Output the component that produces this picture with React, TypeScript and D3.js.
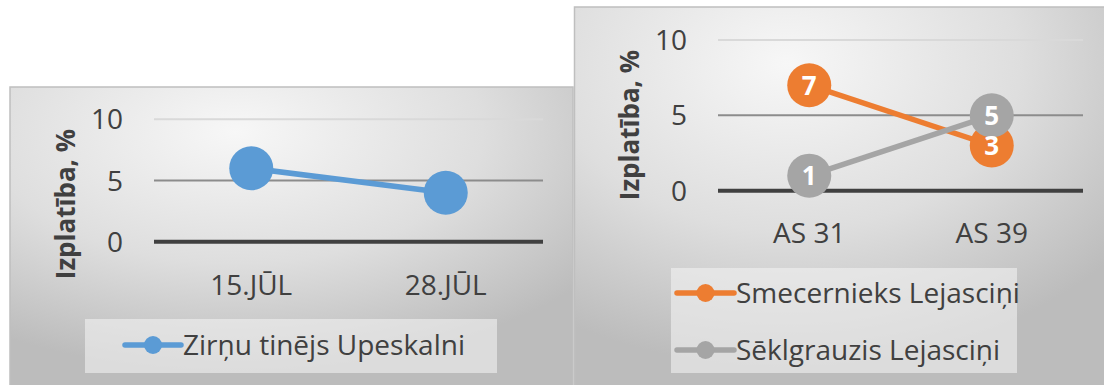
import React from "react";
import * as d3 from "d3";

const leftCategories = ["15.JŪL", "28.JŪL"];
const leftSeriesName = "Zirņu tinējs Upeskalni";
const leftValues = [6, 4];

const rightCategories = ["AS 31", "AS 39"];
const smecName = "Smecernieks Lejasciņi";
const smecValues = [7, 3];
const seklName = "Sēklgrauzis Lejasciņi";
const seklValues = [1, 5];

const yTicks = [0, 5, 10];
const yTitle = "Izplatība, %";

const BLUE = "#5b9bd5";
const ORANGE = "#ed7d31";
const GREY = "#a5a5a5";
const TEXT = "#404040";
const FONT = "'Open Sans', sans-serif";

const gridColor = (v: number) => (v === 0 ? "#404040" : v === 5 ? "#8c8c8c" : "#d9d9d9");
const gridWidth = (v: number) => (v === 0 ? 4 : 2);

type Series = { name: string; values: number[]; color: string; labels: boolean };

function Panel(props: {
  id: string;
  x0: number; y0: number; x1: number; y1: number;
  plotX0: number; plotX1: number; yZero: number; yTen: number;
  tickRight: number; titleX: number; titleY: number; catLabelY: number;
  categories: string[]; series: Series[];
  legend: { x0: number; x1: number; y0: number; y1: number; rows: number[]; lineX0: number; lineX1: number };
}) {
  const p = props;
  const x = d3.scaleBand<string>().domain(p.categories).range([p.plotX0, p.plotX1]);
  const y = d3.scaleLinear().domain([0, 10]).range([p.yZero, p.yTen]);
  const cx = (c: string) => (x(c) as number) + x.bandwidth() / 2;
  const line = d3
    .line<number>()
    .x((_, i) => cx(p.categories[i]))
    .y((d) => y(d));
  return (
    <g>
      <defs>
        <radialGradient id={p.id + "bg"} cx="40%" cy="15%" r="80%" gradientUnits="objectBoundingBox">
          <stop offset="0" stopColor="#f7f7f7" />
          <stop offset="0.55" stopColor="#dedede" />
          <stop offset="1" stopColor="#bcbcbc" />
        </radialGradient>
      </defs>
      <rect x={p.x0} y={p.y0} width={p.x1 - p.x0} height={p.y1 - p.y0} fill={`url(#${p.id}bg)`} stroke="#bfbfbf" strokeWidth={1.5} />
      {yTicks.map((t) => (
        <line key={"g" + t} x1={p.plotX0} x2={p.plotX1} y1={y(t)} y2={y(t)} stroke={gridColor(t)} strokeWidth={gridWidth(t)} />
      ))}
      {yTicks.map((t) => (
        <text key={"t" + t} x={p.tickRight} y={y(t)} dy="0.36em" textAnchor="end" fontFamily={FONT} fontSize={28} fill={TEXT}>
          {t}
        </text>
      ))}
      <text
        transform={`translate(${p.titleX},${p.titleY}) rotate(-90)`}
        textAnchor="middle"
        dy="0.36em"
        fontFamily={FONT}
        fontWeight="bold"
        fontSize={26}
        fill={TEXT}
      >
        {yTitle}
      </text>
      {p.categories.map((c) => (
        <text key={c} x={cx(c)} y={p.catLabelY} dy="0.36em" textAnchor="middle" fontFamily={FONT} fontSize={28} fill={TEXT}>
          {c}
        </text>
      ))}
      {p.series.map((s) => (
        <g key={s.name}>
          <path d={line(s.values) || ""} fill="none" stroke={s.color} strokeWidth={5.5} />
          {s.values.map((v, i) => (
            <circle key={i} cx={cx(p.categories[i])} cy={y(v)} r={22} fill={s.color} />
          ))}
        </g>
      ))}
      {p.series.map((s) =>
        s.labels
          ? s.values.map((v, i) => (
              <text key={s.name + i} x={cx(p.categories[i])} y={y(v)} dy="0.36em" textAnchor="middle" fontFamily={FONT} fontWeight="bold" fontSize={26} fill="#ffffff">
                {v}
              </text>
            ))
          : null
      )}
      <rect x={p.legend.x0} y={p.legend.y0} width={p.legend.x1 - p.legend.x0} height={p.legend.y1 - p.legend.y0} fill="rgba(242,242,242,0.6)" />
      {p.series.map((s, i) => {
        const ly = p.legend.rows[i];
        const mx = (p.legend.lineX0 + p.legend.lineX1) / 2;
        return (
          <g key={"l" + s.name}>
            <line x1={p.legend.lineX0} x2={p.legend.lineX1} y1={ly} y2={ly} stroke={s.color} strokeWidth={5.5} strokeLinecap="round" />
            <circle cx={mx} cy={ly} r={9} fill={s.color} />
            <text x={p.legend.lineX1 + 2} y={ly} dy="0.36em" fontFamily={FONT} fontSize={28} fill={TEXT}>
              {s.name}
            </text>
          </g>
        );
      })}
    </g>
  );
}

export default function App() {
  return (
    <svg width={1104} height={385} style={{ position: "absolute", left: 0, top: 0, display: "block" }}>
      <rect x={0} y={0} width={1104} height={385} fill="#ffffff" />
      <Panel
        id="left"
        x0={10} y0={87} x1={573} y1={386}
        plotX0={154} plotX1={543} yZero={241.7} yTen={119.3}
        tickRight={123} titleX={66} titleY={204} catLabelY={285}
        categories={leftCategories}
        series={[{ name: leftSeriesName, values: leftValues, color: BLUE, labels: false }]}
        legend={{ x0: 85, x1: 497, y0: 319, y1: 373, rows: [345], lineX0: 125, lineX1: 181 }}
      />
      <Panel
        id="right"
        x0={574.5} y0={7} x1={1105} y1={386}
        plotX0={718} plotX1={1083} yZero={190.7} yTen={40}
        tickRight={687} titleX={630} titleY={125} catLabelY={233}
        categories={rightCategories}
        series={[
          { name: smecName, values: smecValues, color: ORANGE, labels: true },
          { name: seklName, values: seklValues, color: GREY, labels: true },
        ]}
        legend={{ x0: 671, x1: 1017, y0: 268, y1: 373, rows: [293, 350], lineX0: 677, lineX1: 734 }}
      />
    </svg>
  );
}
